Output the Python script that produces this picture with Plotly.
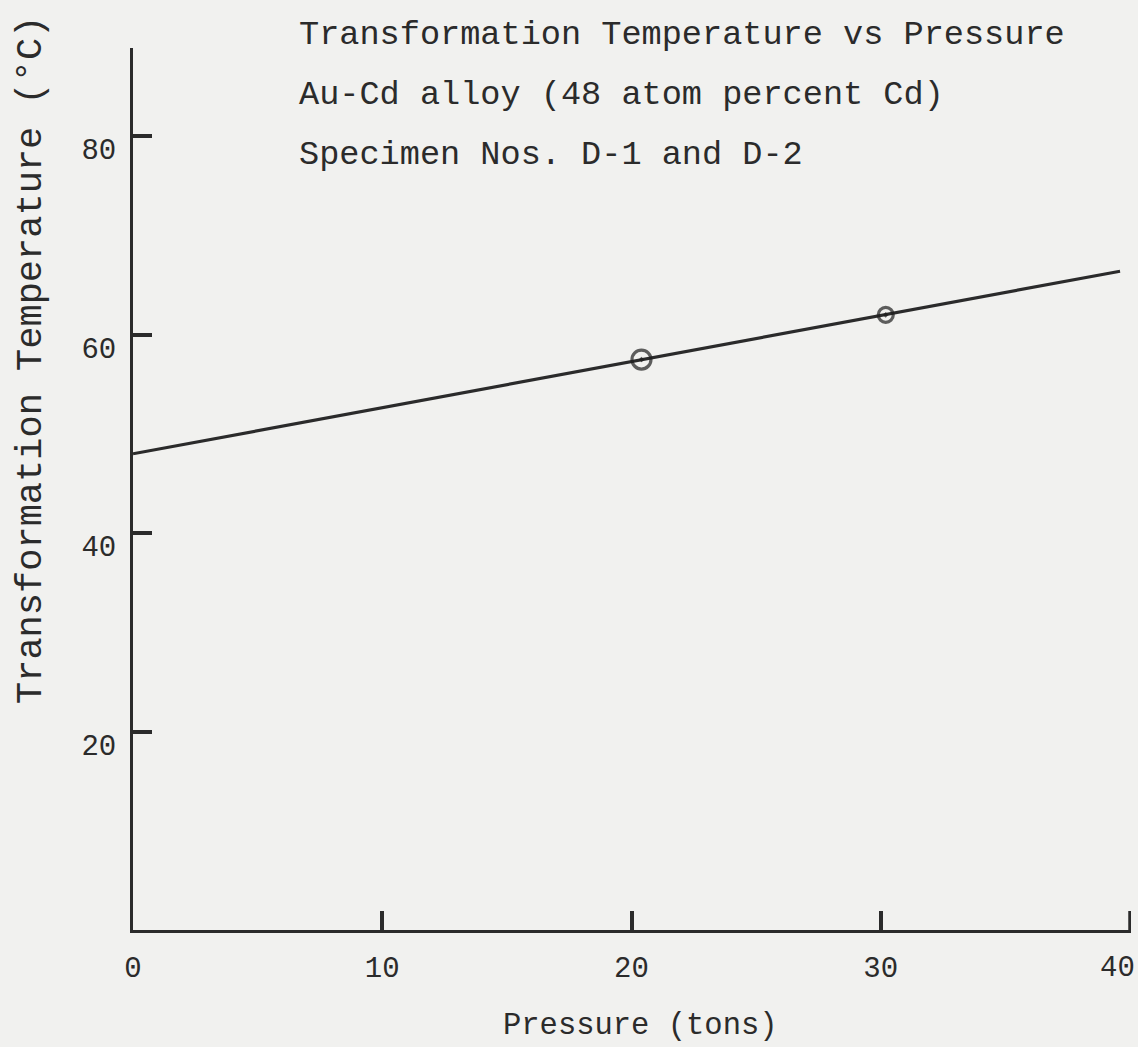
import plotly.graph_objects as go

# Data
fit_pressure = [0, 39.6]
fit_temperature = [48.0, 66.4]
point_pressure = [20.4, 30.2]
point_temperature = [57.5, 62.0]
point_sizes = [19, 15]

x_ticks = [0, 10, 20, 30, 40]
x_tick_labels = ["0", "10", "20", "30", ""]
x_end_tick = 40
x_end_label = "40"
y_ticks = [20, 40, 60, 80]
y_tick_labels = ["20", "40", "60", "80"]

title_lines = [
    "Transformation Temperature vs Pressure",
    "Au-Cd alloy (48 atom percent Cd)",
    "Specimen Nos. D-1 and D-2",
]
x_title = "Pressure (tons)"
y_title = "Transformation Temperature (°C)"

ink = "#2b2b2b"
paper = "#f1f1ef"
font_family = "Liberation Mono, Courier New, monospace"

fig = go.Figure()
fig.add_trace(go.Scatter(
    x=fit_pressure, y=fit_temperature, mode="lines",
    line=dict(color=ink, width=3.2), showlegend=False, hoverinfo="skip"))
fig.add_trace(go.Scatter(
    x=point_pressure, y=point_temperature, mode="markers",
    marker=dict(symbol="circle-open-dot", size=point_sizes,
                color="#1e1e1e", line=dict(color="#1e1e1e", width=3.2)),
    showlegend=False))

W, H = 1138, 1047
ml, mr, mt, mb = 133, 7, 48, 117
plot_w = W - ml - mr
plot_h = H - mt - mb

title_x_px = 297
title_y_px = [35, 95, 155]
for line, ypx in zip(title_lines, title_y_px):
    fig.add_annotation(
        text=line, xref="paper", yref="paper",
        x=(title_x_px - ml) / plot_w, y=(H - mb - ypx) / plot_h,
        xanchor="left", yanchor="middle", showarrow=False,
        font=dict(family=font_family, size=33.6, color=ink))

# y-axis title (placed where it sits in the original)
fig.add_annotation(
    text=y_title, xref="paper", yref="paper",
    x=(31 - ml) / plot_w, y=(H - mb - 360) / plot_h,
    xanchor="center", yanchor="middle", textangle=-90, showarrow=False,
    font=dict(family=font_family, size=37, color=ink))

# x-axis title
fig.add_annotation(
    text=x_title, xref="paper", yref="paper",
    x=(640 - ml) / plot_w, y=(H - mb - 1026) / plot_h,
    xanchor="center", yanchor="middle", showarrow=False, borderpad=0,
    font=dict(family=font_family, size=30.5, color=ink))

# label and tick mark of the last x tick, kept inside the page edge as in the original
fig.add_annotation(
    text=x_end_label, xref="x", yref="paper",
    x=x_end_tick, y=(H - mb - 968) / plot_h, xshift=-13,
    xanchor="center", yanchor="middle", showarrow=False,
    font=dict(family=font_family, size=29, color=ink))
fig.add_shape(
    type="line", xref="x", yref="paper", x0=x_end_tick, x1=x_end_tick,
    ysizemode="pixel", yanchor=0, y0=0, y1=19,
    line=dict(color=ink, width=3.5))

fig.update_layout(
    width=W, height=H,
    margin=dict(l=ml, r=mr, t=mt, b=mb, pad=0),
    paper_bgcolor=paper, plot_bgcolor=paper,
    font=dict(family=font_family, color=ink),
)
fig.update_xaxes(
    range=[0, 40.04], tickvals=x_ticks, ticktext=x_tick_labels,
    showgrid=False, zeroline=False, showline=True, linecolor=ink, linewidth=3,
    ticks="inside", ticklen=19, tickwidth=3.5, tickcolor=ink,
    tickfont=dict(family=font_family, size=29, color=ink),
    ticklabelstandoff=9, automargin=False,
)
fig.update_yaxes(
    range=[0, 88.9], tickvals=y_ticks, ticktext=y_tick_labels,
    showgrid=False, zeroline=False, showline=True, linecolor=ink, linewidth=3,
    ticks="inside", ticklen=19, tickwidth=3.5, tickcolor=ink,
    tickfont=dict(family=font_family, size=29, color=ink),
    ticklabelstandoff=8, ticklabelshift=13, automargin=False,
)

fig.write_html("out.html")
